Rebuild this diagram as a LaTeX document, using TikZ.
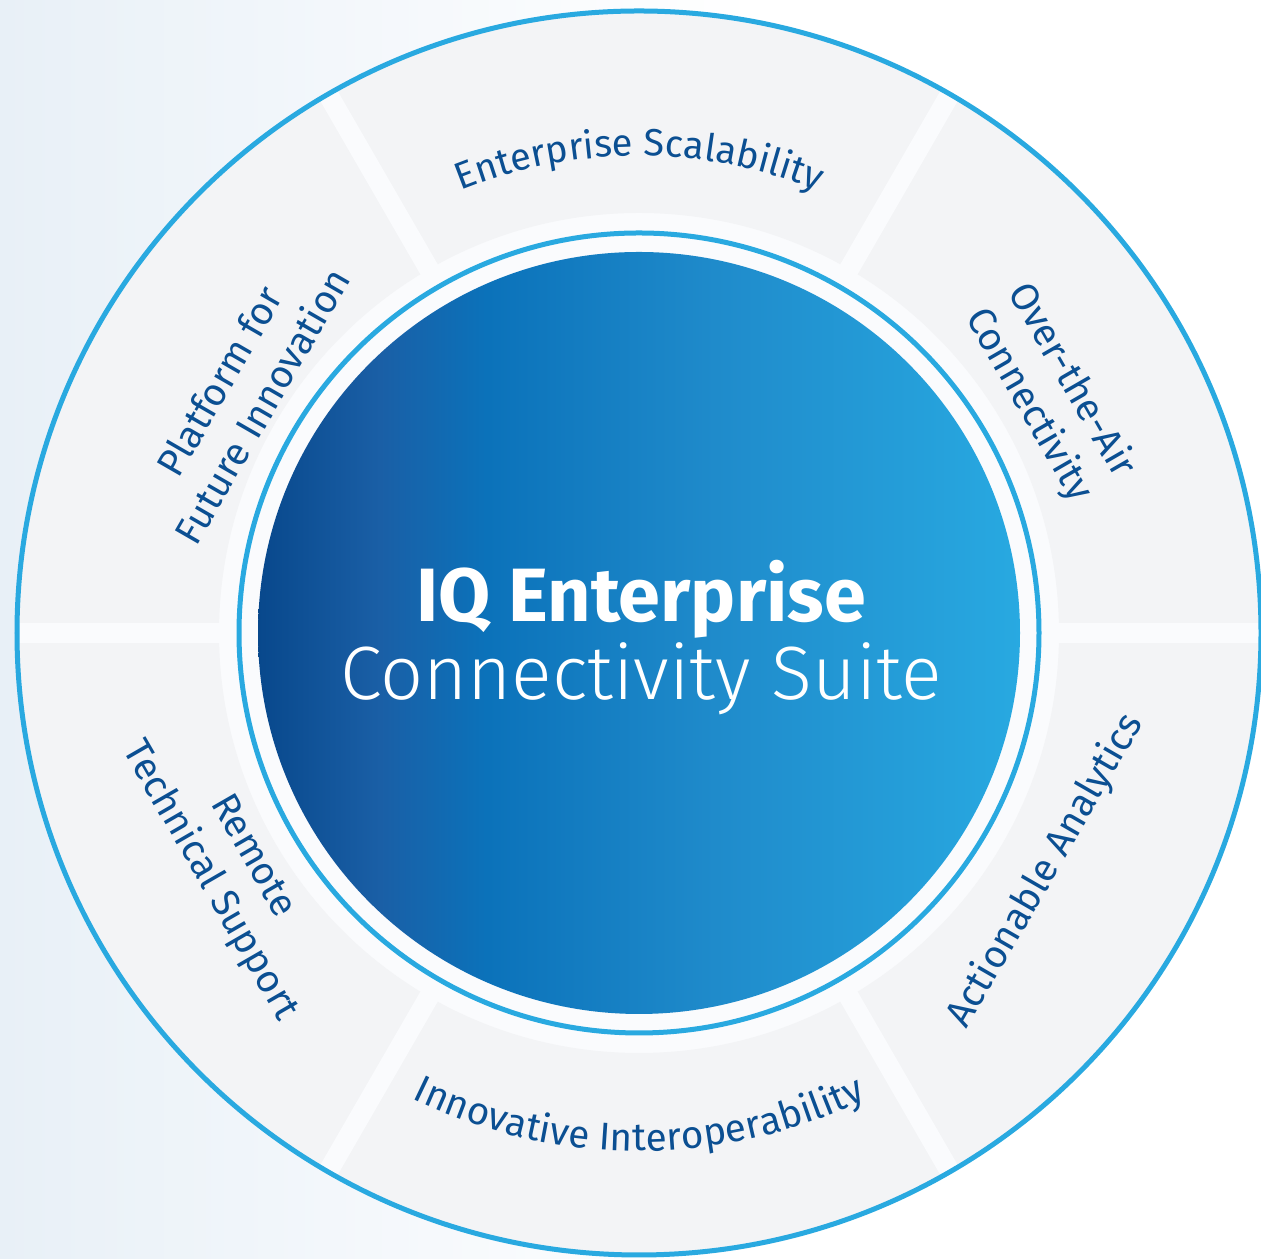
\documentclass[tikz,border=0pt]{standalone}
\usepackage{fontspec}
\setmainfont{Fira Sans}
\newfontfamily\lightfont{Fira Sans Light}
\usetikzlibrary{calc,decorations.text}

\definecolor{ringblue}{HTML}{29A9E0}
\definecolor{seggray}{HTML}{F3F4F6}
\definecolor{bandwhite}{HTML}{FAFBFD}
\definecolor{labelblue}{HTML}{0B4F92}
\definecolor{dA}{HTML}{08488C}
\definecolor{dB}{HTML}{1A5FA6}
\definecolor{dC}{HTML}{0B72BA}
\definecolor{dD}{HTML}{1F8BCB}
\definecolor{dE}{HTML}{28A9E1}
\definecolor{bgA}{HTML}{E8F0F7}
\definecolor{bgB}{HTML}{F3F7FB}
\definecolor{bgC}{HTML}{FFFFFF}

\pgfdeclarehorizontalshading{discshade}{100bp}{color(0bp)=(dA); color(25bp)=(dA); color(33bp)=(dB); color(40bp)=(dC); color(55bp)=(dD); color(75bp)=(dE); color(100bp)=(dE)}
\pgfdeclarehorizontalshading{bgshade}{100bp}{color(0bp)=(bgA); color(25bp)=(bgA); color(38bp)=(bgB); color(55bp)=(bgC); color(100bp)=(bgC)}

\tikzset{
  lbl/.style={text=labelblue, font=\fontsize{11}{14}\selectfont, align=center, inner sep=0pt},
  titlebold/.style={text=white, font=\fontsize{21.5}{26}\selectfont\bfseries, inner sep=0pt},
  titlelight/.style={text=white, font=\fontsize{21.5}{26}\lightfont, inner sep=0pt},
  gapline/.style={bandwhite, line width=0.2cm},
  ring/.style={ringblue, line width=0.05cm}
}

\begin{document}
\begin{tikzpicture}
\useasboundingbox (0,0) rectangle (12.61,12.59);
\shade[shading=bgshade] (0,0) rectangle (12.61,12.59);

\coordinate (O) at (6.39,6.26);

% outer disc and segments
\fill[bandwhite] (O) circle (6.22);
\fill[seggray, even odd rule] (O) circle (6.22) (O) circle (4.20);
\foreach \a in {0,60,...,300}{
  \draw[gapline] ($(O)+(\a:4.1)$) -- ($(O)+(\a:6.22)$);
}
\draw[ring] (O) circle (6.22);
\draw[ring] (O) circle (4.00);
\shade[shading=discshade] (O) circle (3.81);

% title
\node[titlebold, anchor=base] (t1) at ($(O)+(0.02,0.11)$) {IQ Enterprise};
\node[titlelight, anchor=base] (t2) at ($(O)+(0.02,-0.67)$) {Connectivity Suite};

% curved labels
\path[decorate, decoration={text along path, text align=center, text color=labelblue,
  text={|\fontsize{10.8}{14}\selectfont|Enterprise Scalability}}]
  ($(O)+(120:4.77)$) arc[start angle=120, end angle=60, radius=4.77];
\path[decorate, decoration={text along path, text align=center, text color=labelblue,
  text={|\fontsize{11}{14}\selectfont|Innovative Interoperability}}]
  ($(O)+(240:5.18)$) arc[start angle=240, end angle=300, radius=5.18];

% rotated labels
\node[lbl, rotate=60] (plat) at ($(O)+(149:4.65)$) {Platform for\\Future Innovation};
\node[lbl, rotate=-60] (ota) at ($(O)+(30.3:4.76)$) {Over-the-Air\\Connectivity};
\node[lbl, rotate=-60] (rts) at ($(O)+(210:4.72)$) {Remote\\Technical Support};
\node[lbl, rotate=60] (aa) at ($(O)+(-30.3:4.71)$) {Actionable Analytics};
\end{tikzpicture}
\end{document}
